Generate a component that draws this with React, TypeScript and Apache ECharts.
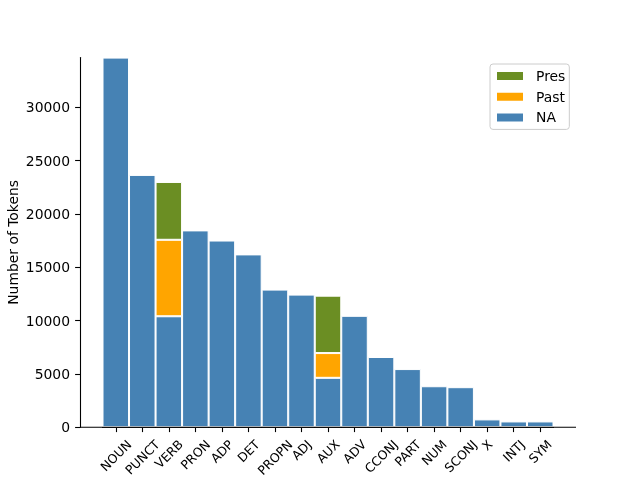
import React, { useEffect, useRef } from "react";
import * as echarts from "echarts";

const categories = ["NOUN", "PUNCT", "VERB", "PRON", "ADP", "DET", "PROPN", "ADJ", "AUX", "ADV", "CCONJ", "PART", "NUM", "SCONJ", "X", "INTJ", "SYM"];
const naValues = [34650, 23650, 10400, 18450, 17500, 16200, 12900, 12430, 4630, 10440, 6580, 5450, 3840, 3750, 730, 540, 540];
const pastValues = [null, null, 7170, null, null, null, null, null, 2320, null, null, null, null, null, null, null, null];
const presValues = [null, null, 5420, null, null, null, null, null, 5380, null, null, null, null, null, null, null, null];
const yTicks = [0, 5000, 10000, 15000, 20000, 25000, 30000];
const yMax = 34650;

const FONT = "DejaVu Sans";

export default function App() {
  const ref = useRef<HTMLDivElement>(null);
  useEffect(() => {
    if (!ref.current) return;
    const chart = echarts.init(ref.current, undefined, { renderer: "svg" });
    const xFont = 12.5;
    const canvas = document.createElement("canvas");
    const ctx = canvas.getContext("2d");
    if (ctx) ctx.font = `${xFont}px "${FONT}"`;
    const textH = 14.5;
    const M = -4;
    const Kp = (9.8 + 0.354 * textH - M) / 0.707;
    const rich: Record<string, any> = {};
    categories.forEach((c, i) => {
      const w = ctx ? ctx.measureText(c).width : c.length * 8;
      const pr = Math.max(0, (Kp - 0.5 * w) / 2);
      const L = 0.5 * w + Kp;
      rich["t" + i] = { fontSize: xFont, fontFamily: FONT, color: "#000", padding: [0, pr, 0, 0], lineHeight: xFont * 1.2 };
      rich["s" + i] = { fontSize: 1, lineHeight: L };
    });
    const barStyle = (color: string) => ({ color, borderColor: "#ffffff", borderWidth: 1 });
    chart.setOption({
      animation: false,
      textStyle: { fontFamily: FONT },
      grid: { left: 102.5, right: 86.5, top: 57.6, bottom: 52.8, containLabel: false, outerBoundsMode: "none" },
      legend: {
        orient: "vertical",
        left: 490,
        top: 64,
        data: ["Pres", "Past", "NA"],
        icon: "rect",
        itemWidth: 28,
        itemHeight: 10,
        itemGap: 6.7,
        padding: [5, 4, 5, 5],
        borderColor: "#cccccc",
        borderWidth: 1,
        borderRadius: 3,
        backgroundColor: "rgba(255,255,255,0.8)",
        textStyle: { fontSize: 13.9, color: "#000", fontFamily: FONT, lineHeight: 14, padding: [0, 0, 0, 7] },
      },
      xAxis: {
        type: "category",
        data: categories,
        axisLine: { show: true, lineStyle: { color: "#000", width: 1.1 } },
        axisTick: { show: true, alignWithLabel: true, length: 4.9, lineStyle: { color: "#000", width: 1.1 } },
        axisLabel: {
          interval: 0,
          rotate: 45,
          fontSize: xFont,
          color: "#000",
          fontFamily: FONT,
          margin: M,
          formatter: (v: string, i: number) => `{s${i}| }\n{t${i}|${v}}`,
          rich,
        },
        splitLine: { show: false },
      },
      yAxis: {
        type: "value",
        min: 0,
        max: yMax,
        offset: 22.5,
        name: "Number of Tokens",
        nameLocation: "middle",
        nameGap: 60,
        nameMoveOverlap: false,
        nameTextStyle: { fontSize: 13.9, color: "#000", fontFamily: FONT },
        axisLine: { show: true, lineStyle: { color: "#000", width: 1.1 } },
        axisTick: { show: true, length: 4.9, lineStyle: { color: "#000", width: 1.1 }, customValues: yTicks },
        axisLabel: { fontSize: 13.9, color: "#000", fontFamily: FONT, margin: 10, customValues: yTicks, formatter: (v: number) => String(v) },
        splitLine: { show: false },
      },
      series: [
        { name: "NA", type: "bar", stack: "t", data: naValues, barCategoryGap: "0%", itemStyle: barStyle("#4682b4") },
        { name: "Past", type: "bar", stack: "t", data: pastValues, barCategoryGap: "0%", itemStyle: barStyle("#ffa500") },
        { name: "Pres", type: "bar", stack: "t", data: presValues, barCategoryGap: "0%", itemStyle: barStyle("#6b8e23") },
      ],
      graphic: [
        {
          type: "line",
          z: 100,
          shape: { x1: 80, y1: 427.2, x2: 576, y2: 427.2 },
          style: { stroke: "#000", lineWidth: 1.1 },
        },
      ],
    });
    return () => chart.dispose();
  }, []);
  return <div ref={ref} style={{ position: "fixed", left: 0, top: 0, width: 640, height: 480 }} />;
}
